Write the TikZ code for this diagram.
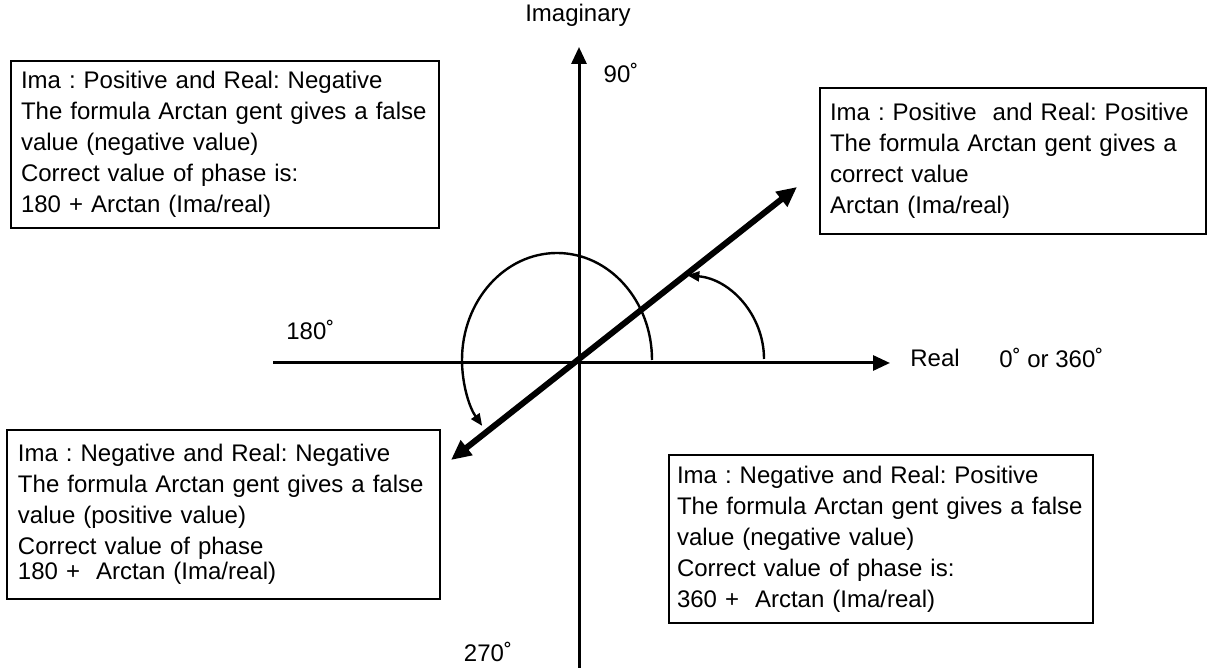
\documentclass[tikz,border=0pt]{standalone}
\usepackage{fontspec}
\setmainfont{Liberation Sans}
\usetikzlibrary{arrows.meta,positioning}
\frenchspacing

\begin{document}
\begin{tikzpicture}[x=0.5pt, y=0.5pt,
  lbl/.style={font=\fontsize{12}{15.5}\selectfont, inner sep=0pt},
  infobox/.style={draw, line width=1pt, anchor=north west, align=left, font=\fontsize{12}{15.5}\selectfont\frenchspacing, inner xsep=#1, inner ysep=0pt},
  infobox/.default=5.5pt,
  axis/.style={line width=1.5pt, -{Triangle[length=8.5pt, width=7.5pt]}},
  vec/.style={line width=3pt, {Triangle[length=10pt, width=9pt]}-{Triangle[length=10pt, width=9pt]}},
  turn/.style={line width=1.2pt, -{Triangle[length=6pt, width=5pt]}}]
\useasboundingbox (0,0) rectangle (1226,668);
% axes
\coordinate (xs) at (273,305); \coordinate (xe) at (890,305);
\coordinate (ys) at (579,0);   \coordinate (ye) at (579,621);
\draw[axis] (xs) -- (xe);
\draw[axis] (ys) -- (ye);
\node[lbl] (ima) at (578,653) {Imaginary};
\node[lbl] (d90) at (621,595) {90˚};
\node[lbl, anchor=west] (d180) at (286,338) {180˚};
\node[lbl] (d270) at (488,16) {270˚};
\node[lbl] (re) at (935,310) {Real};
\node[lbl, anchor=west] (d0) at (999,310) {0˚ or 360˚};
% phasor and angles
\coordinate (pa) at (451,208); \coordinate (pb) at (797,481);
\draw[vec] (pa) -- (pb);
\coordinate (a1) at (764,309); \coordinate (a2) at (652,308);
\draw[turn] (a1) arc[start angle=0, end angle=85, radius=84];
\draw[turn] (a2) arc[start angle=0, end angle=218, x radius=95, y radius=107];
% quadrant boxes
\node[infobox=5pt, minimum width=214pt, minimum height=83.5pt, text width=204pt] (q2) at (10,608)
  {Ima : Positive and Real: Negative\\The formula Arctan gent gives a false\\value (negative value)\\Correct value of phase is:\\180 + Arctan (Ima/real)};
\node[infobox=5pt, minimum width=193pt, minimum height=73pt, text width=183pt] (q1) at (819,581)
  {Ima : Positive\ \ and Real: Positive\\The formula Arctan gent gives a\\correct value\\Arctan (Ima/real)};
\node[infobox, minimum width=216.5pt, minimum height=84.5pt, text width=205.5pt] (q3) at (6,239)
  {Ima : Negative and Real: Negative\\The formula Arctan gent gives a false\\value (positive value)\\Correct value of phase\\[-3pt]180 +\ \ Arctan (Ima/real)};
\node[infobox=4pt, minimum width=212pt, minimum height=84pt, text width=204pt] (q4) at (668,214)
  {Ima : Negative and Real: Positive\\The formula Arctan gent gives a false\\value (negative value)\\Correct value of phase is:\\360 +\ \ Arctan (Ima/real)};
\end{tikzpicture}
\end{document}
